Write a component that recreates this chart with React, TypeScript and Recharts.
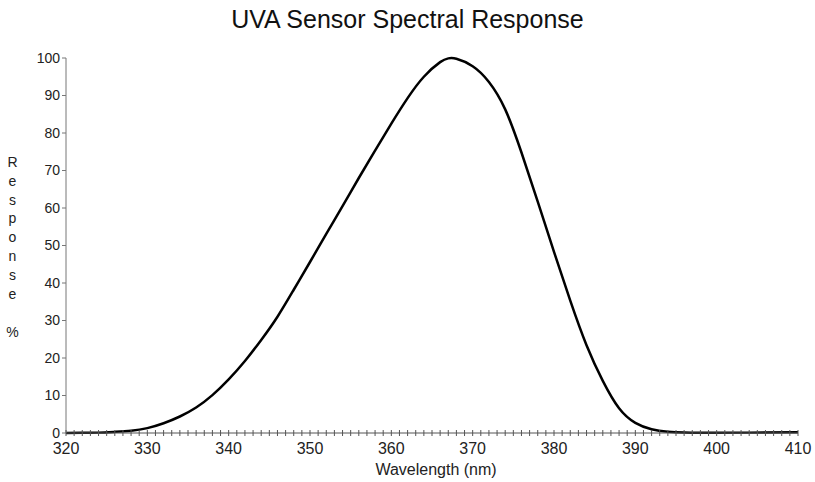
import { CartesianGrid, Line, LineChart, XAxis, YAxis } from "recharts";

// Wavelength (nm) and relative response (%)
const WAVELENGTHS = [
  320, 322, 324, 326, 328, 330, 332, 334, 336, 338, 340, 342, 344, 346, 348, 350, 352, 354, 356, 358,
  360, 362, 364, 366, 367, 368, 370, 372, 374, 376, 378, 380, 382, 384, 386, 388, 390, 392, 394, 396,
  398, 400, 404, 410,
];
const RESPONSE = [
  0, 0.05, 0.1, 0.3, 0.6, 1.3, 2.6, 4.4, 6.8, 10.1, 14.3, 19.2, 24.8, 31, 38.2, 45.6, 53.1, 60.5, 68.0, 75.3,
  82.5, 89.3, 95.0, 98.9, 99.9, 99.8, 97.8, 93.6, 86.3, 74.8, 61.7, 48.3, 35.3, 23.4, 13.9, 6.6, 2.7, 1.0, 0.35, 0.12,
  0.06, 0.05, 0.1, 0.2,
];
const Y_TICKS = [0, 10, 20, 30, 40, 50, 60, 70, 80, 90, 100];
const X_TICKS = Array.from({ length: 91 }, (_, i) => 320 + i);
const Y_LABEL = ["R", "e", "s", "p", "o", "n", "s", "e"];

const FONT = '"Liberation Sans", Arial, sans-serif';
const TEXT = "#222";

const data = WAVELENGTHS.map((w, i) => ({ wl: w, resp: RESPONSE[i] }));

function XTick({ x, y, payload }: any) {
  const major = payload.value % 10 === 0;
  return (
    <g>
      <line x1={x} x2={x} y1={y - 3} y2={y + 3} stroke="#555" />
      {major && (
        <text x={x} y={y + 21} textAnchor="middle" fontSize={16} fill={TEXT} fontFamily={FONT}>
          {payload.value}
        </text>
      )}
    </g>
  );
}

export default function App() {
  return (
    <div style={{ position: "absolute", left: 0, top: 0, width: 815, height: 482, fontFamily: FONT, background: "#fff" }}>
      <style>{"body{margin:0}"}</style>
      <div style={{ position: "absolute", left: 0, width: 815, top: 5, textAlign: "center", fontSize: 25, lineHeight: "29px", color: "#111" }}>
        UVA Sensor Spectral Response
      </div>
      {Y_LABEL.map((c, i) => (
        <div key={i} style={{ position: "absolute", left: 0, width: 25, top: 154 + i * 18.8, textAlign: "center", fontSize: 14, lineHeight: "16px", color: TEXT }}>
          {c}
        </div>
      ))}
      <div style={{ position: "absolute", left: 0, width: 25, top: 324, textAlign: "center", fontSize: 14, lineHeight: "16px", color: TEXT }}>%</div>
      <div style={{ position: "absolute", left: 70, width: 732, top: 461, textAlign: "center", fontSize: 16, lineHeight: "18px", color: TEXT }}>
        Wavelength (nm)
      </div>
      <LineChart width={815} height={482} data={data} margin={{ top: 58, right: 17, bottom: 19, left: 10 }}>
        <CartesianGrid stroke="none" />
        <XAxis
          dataKey="wl"
          type="number"
          domain={[320, 410]}
          ticks={X_TICKS}
          interval={0}
          tick={<XTick />}
          tickLine={false}
          tickSize={0}
          tickMargin={0}
          axisLine={{ stroke: "#555" }}
          height={30}
        />
        <YAxis
          type="number"
          domain={[0, 100]}
          ticks={Y_TICKS}
          interval={0}
          width={56}
          tickSize={4}
          tickMargin={2}
          tickLine={{ stroke: "#777" }}
          axisLine={{ stroke: "#777" }}
          tick={{ fontSize: 14, fill: TEXT, fontFamily: FONT }}
        />
        <Line
          dataKey="resp"
          type="natural"
          stroke="#000"
          strokeWidth={2.5}
          dot={false}
          activeDot={false}
          isAnimationActive={false}
        />
      </LineChart>
    </div>
  );
}
